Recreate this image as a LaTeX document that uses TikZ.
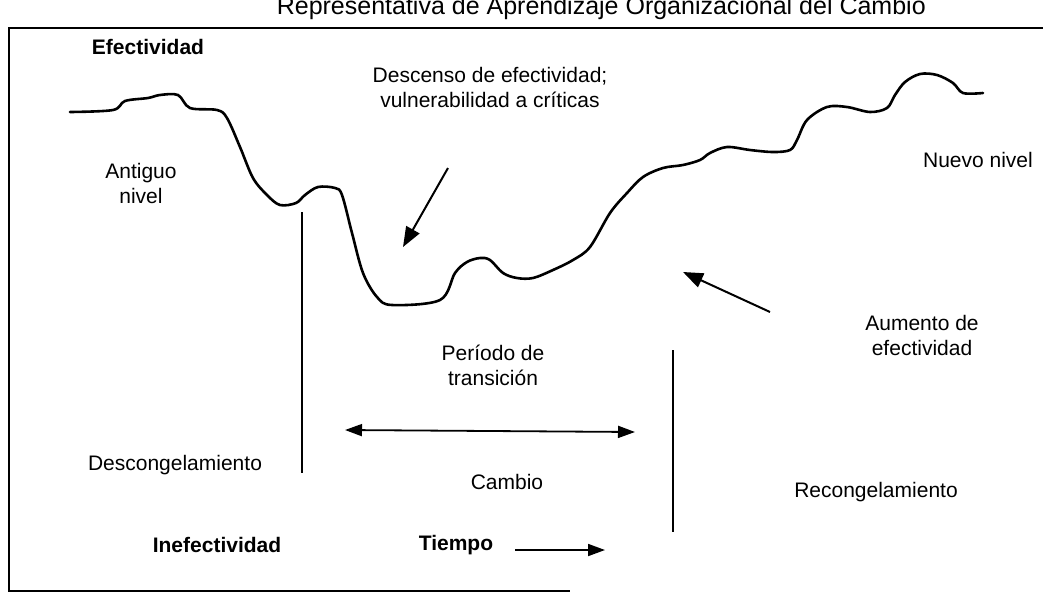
\documentclass[tikz,border=0pt]{standalone}
\usepackage{fontspec}
\setmainfont{Liberation Sans}
\usetikzlibrary{arrows.meta}
\begin{document}
\begin{tikzpicture}[x=1pt,y=-1pt,
  lbl/.style={font=\fontsize{21}{25}\selectfont, align=center, inner sep=0pt},
  blbl/.style={lbl, font=\fontsize{21}{25}\selectfont\bfseries},
  curveline/.style={line width=2.6pt, line join=round, line cap=round},
  frameline/.style={line width=1.8pt},
  divider/.style={line width=2.4pt},
  bigarrow/.style={line width=2pt, -{Triangle[length=20pt,width=15pt]}},
  midarrow/.style={line width=1.8pt, -{Triangle[length=17pt,width=12pt]}},
  dblarrow/.style={line width=1.8pt, {Triangle[length=17pt,width=12pt]}-{Triangle[length=17pt,width=12pt]}}]
\useasboundingbox (0,0) rectangle (1043,595);
\clip (0,0) rectangle (1043,595);
% title (cut at the top in the reference)
\node[anchor=base east, font=\fontsize{25}{29}\selectfont, inner sep=0pt] (title) at (926,14) {Representativa de Aprendizaje Organizacional del Cambio};
% frame
\coordinate (ftr) at (1043,28);
\coordinate (ftl) at (9,28);
\coordinate (fbl) at (9,591);
\coordinate (fbr) at (570,591);
\draw[frameline] (ftr) -- (ftl) -- (fbl) -- (fbr);
% effectiveness curve
\draw[curveline] plot[smooth, tension=0.55] coordinates {
(70,112) (113,110) (125,101) (148,98) (160,95) (178,95) (190,108) (217,110)
(227,118) (240,147) (253,178) (267,195) (280,205) (296,203) (305,195) (318,187)
(335,188) (342,195) (352,233) (363,273) (377,297) (392,305) (440,300) (455,273)
(467,262) (480,258) (490,260) (503,273) (517,278) (533,278) (553,270) (573,260)
(590,247) (610,213) (627,193) (643,177) (663,168) (683,165) (700,160) (710,153)
(727,147) (750,150) (773,152) (790,150) (797,140) (807,120) (827,107) (847,107)
(870,112) (887,108) (895,95) (905,82) (920,74) (937,75) (953,83) (963,93) (983,93)};
% labels
\node[blbl] (efect) at (148,47) {Efectividad};
\node[lbl] (antiguo) at (141,183) {Antiguo\\nivel};
\node[lbl] (descenso) at (490,87) {Descenso de efectividad;\\vulnerabilidad a críticas};
\node[lbl] (nuevo) at (978,160) {Nuevo nivel};
\node[lbl] (aumento) at (922,335) {Aumento de\\efectividad};
\node[lbl] (periodo) at (493,365) {Período de\\transición};
\node[lbl] (cambio) at (507,482) {Cambio};
\node[lbl] (descong) at (175,465) {Descongelamiento};
\node[blbl] (inefect) at (217,545) {Inefectividad};
\node[blbl] (tiempo) at (456,545) {Tiempo};
\node[lbl] (recong) at (876,492) {Recongelamiento};
% dividers
\coordinate (v1a) at (302,212);
\coordinate (v1b) at (302,473);
\coordinate (v2a) at (673,350);
\coordinate (v2b) at (673,532);
\draw[divider] (v1a) -- (v1b);
\draw[divider] (v2a) -- (v2b);
% arrows
\coordinate (dA) at (448,168);
\coordinate (dB) at (403,247);
\draw[bigarrow] (dA) -- (dB);
\coordinate (aA) at (770,312);
\coordinate (aB) at (683,272);
\draw[bigarrow] (aA) -- (aB);
\coordinate (tL) at (345,430);
\coordinate (tR) at (635,432);
\draw[dblarrow] (tL) -- (tR);
\coordinate (tmA) at (515,550);
\coordinate (tmB) at (605,550);
\draw[midarrow] (tmA) -- (tmB);
\end{tikzpicture}
\end{document}
